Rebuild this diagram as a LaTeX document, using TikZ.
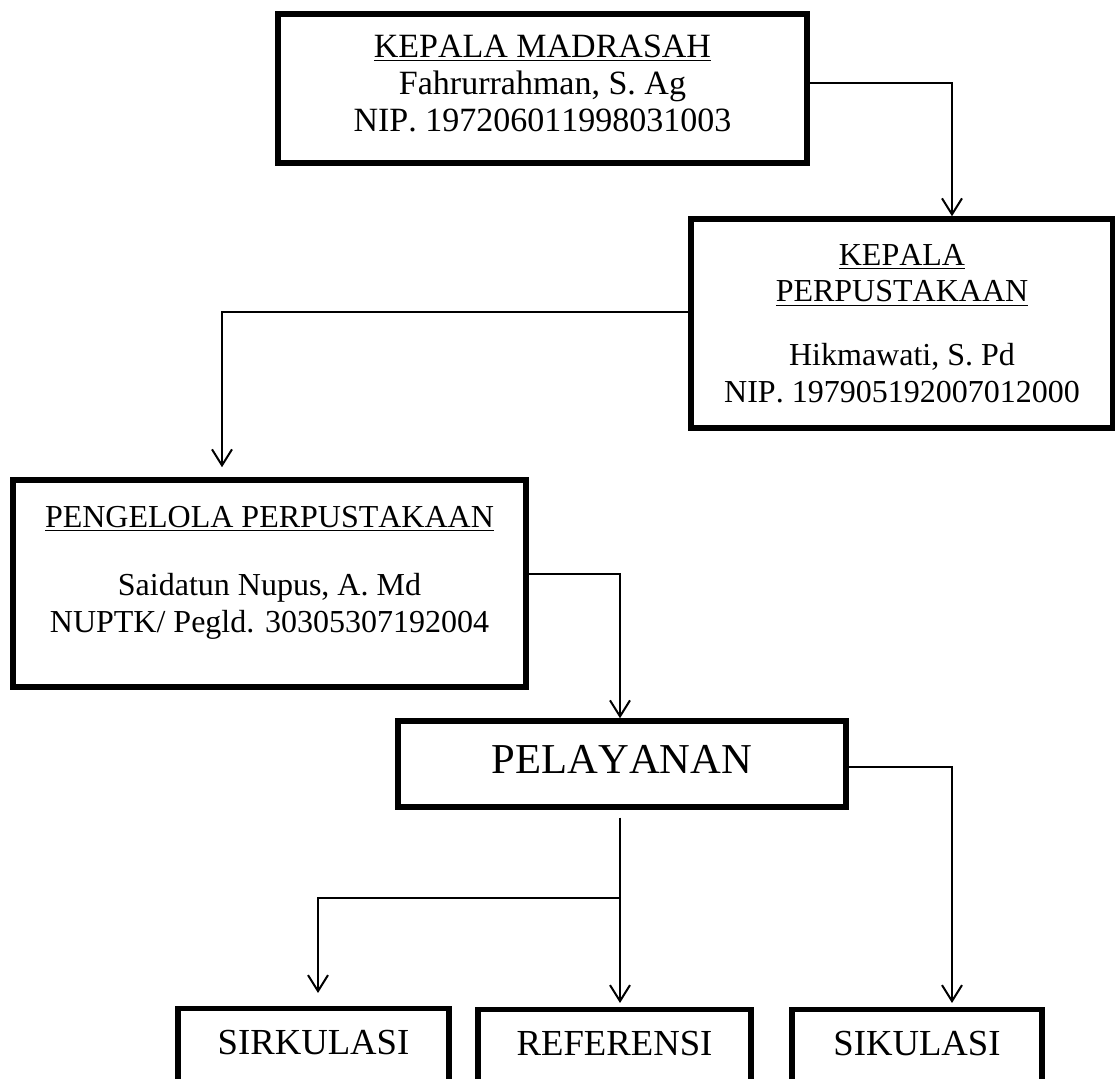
\documentclass[tikz,border=0pt]{standalone}
\usepackage{fontspec}
\setmainfont{Liberation Serif}[Kerning=Off]
\usetikzlibrary{arrows.meta,
                positioning
                }

\begin{document}
\begin{tikzpicture}[
        x = 0.5pt, y = -0.5pt,
        unit/.style = {draw, line width=2.75pt, align=center, inner sep=0pt},
        leaf/.style = {unit, anchor=north, text height=23pt, text depth=55pt,
                       font=\fontsize{18.35pt}{22pt}\selectfont},
        conn/.style = {line width=1pt, -{Straight Barb[length=8pt, width=10pt]}}
    ]
    \useasboundingbox (0,0) rectangle (1115,1079);
    % struktur atas
    \node (kamad) [unit, minimum width=264.5pt, minimum height=74.5pt,
                   font=\fontsize{17pt}{18.5pt}\selectfont] at (542.5,88.5) {
        \underline{KEPALA MADRASAH}\\
        Fahrurrahman, S. Ag\\
        NIP. 197206011998031003\\[-13.5pt]
        \mbox{}
    };
    \node (kapus) [unit, minimum width=211pt, minimum height=104.5pt,
                   font=\fontsize{16pt}{18.25pt}\selectfont] at (902,323.5) {
        \underline{KEPALA}\\
        \underline{PERPUSTAKAAN}\\[13.75pt]
        Hikmawati, S. Pd\\
        NIP. 197905192007012000
    };
    \node (pengelola) [unit, minimum width=256.5pt, minimum height=103.5pt,
                       font=\fontsize{16pt}{18.5pt}\selectfont] at (269.5,583.5) {
        \underline{PENGELOLA PERPUSTAKAAN}\\[15.5pt]
        Saidatun Nupus, A. Md\\
        NUPTK/ Pegld. 30305307192004\\[-4pt]
        \mbox{}
    };
    \node (pelayanan) [unit, minimum width=224pt, minimum height=43pt, text depth=5pt,
                       font=\fontsize{21.3pt}{24pt}\selectfont] at (622,764) {PELAYANAN};
    % layanan
    \node (sirkulasi) [leaf, minimum width=135.5pt] at (313.5,1006) {SIRKULASI};
    \node (referensi) [leaf, minimum width=136.5pt] at (614.5,1007) {REFERENSI};
    \node (sikulasi)  [leaf, minimum width=125pt]   at (917,1007)   {SIKULASI};
    \coordinate (split) at (620,898);
    % garis
    \draw[conn] ([yshift=2.75pt]kamad.east) -| ([xshift=25pt]kapus.north);
    \draw[conn, shorten >=5pt] ([yshift=5.75pt]kapus.west) -| ([xshift=-23.75pt]pengelola.north);
    \draw[conn] ([yshift=4.75pt]pengelola.east) -| ([xshift=-1pt]pelayanan.north);
    \draw[conn, shorten >=2pt] ([yshift=-1.5pt]pelayanan.east) -| ([xshift=17.5pt]sikulasi.north);
    \draw[conn, shorten <=4pt, shorten >=2pt] (pelayanan.south -| split) -- (split |- referensi.north);
    \draw[conn, shorten >=6.5pt] (split) -| ([xshift=2.25pt]sirkulasi.north);
\end{tikzpicture}
\end{document}
